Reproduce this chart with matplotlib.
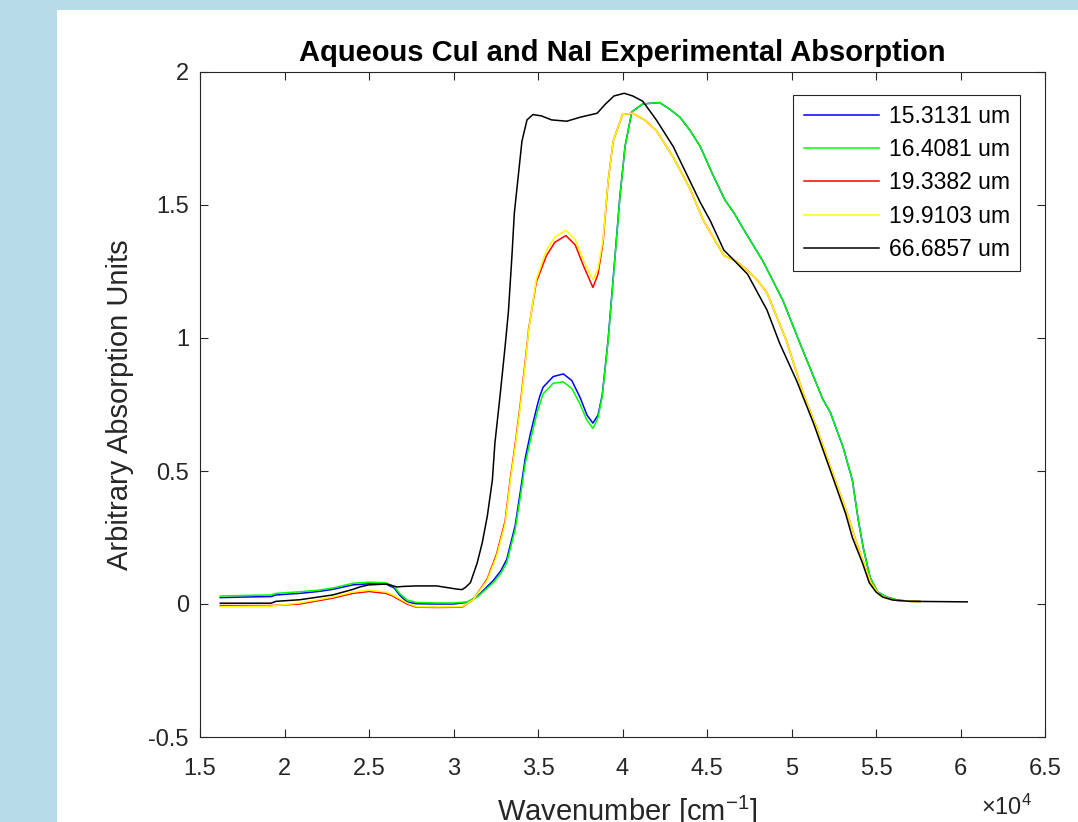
import matplotlib
matplotlib.use("Agg")
import matplotlib.pyplot as plt
from matplotlib.patches import Rectangle
from matplotlib.ticker import FuncFormatter

# wavenumber grids [cm^-1]
wn_green = [16200, 17500, 19200, 19500, 20900, 22000, 22850, 24050, 25000, 26000,
            26500, 26800, 27250, 27800, 29000, 30000, 30800, 31400, 32000, 32350,
            32800, 33150, 33650, 33950, 34250, 34550, 34950, 35100, 35300, 35900,
            36500, 37000, 37500, 37900, 38250, 38550, 38800, 39000, 39150, 39450,
            39850, 40150, 40550, 41200, 42200, 42800, 43400, 44000, 44600, 45300,
            46050, 46600, 47150, 48300, 49500, 50500, 51400, 51850, 52300, 53050,
            53600, 53950, 54250, 54650, 55100, 55650, 56300, 57000, 57600]

green = [0.030, 0.032, 0.034, 0.040, 0.046, 0.052, 0.060, 0.078, 0.082, 0.080,
         0.065, 0.040, 0.015, 0.006, 0.004, 0.004, 0.008, 0.026, 0.060, 0.080,
         0.115, 0.155, 0.280, 0.400, 0.530, 0.615, 0.720, 0.750, 0.790, 0.830,
         0.835, 0.810, 0.750, 0.690, 0.660, 0.700, 0.780, 0.900, 0.990, 1.220,
         1.530, 1.720, 1.850, 1.880, 1.885, 1.860, 1.830, 1.780, 1.720, 1.620,
         1.520, 1.470, 1.410, 1.290, 1.140, 0.980, 0.840, 0.770, 0.720, 0.590,
         0.466, 0.316, 0.210, 0.100, 0.045, 0.026, 0.014, 0.011, 0.010]

blue = [0.024, 0.026, 0.028, 0.034, 0.040, 0.047, 0.055, 0.072, 0.076, 0.075,
        0.060, 0.034, 0.008, 0.001, 0.000, 0.000, 0.006, 0.028, 0.066, 0.088,
        0.125, 0.168, 0.295, 0.420, 0.550, 0.640, 0.745, 0.780, 0.815, 0.855,
        0.865, 0.840, 0.775, 0.710, 0.680, 0.710, 0.785, 0.905, 0.995, 1.225,
        1.535, 1.720, 1.850, 1.880, 1.885, 1.860, 1.830, 1.780, 1.720, 1.620,
        1.520, 1.470, 1.410, 1.290, 1.140, 0.980, 0.840, 0.770, 0.720, 0.590,
        0.466, 0.316, 0.210, 0.100, 0.045, 0.026, 0.014, 0.011, 0.010]

wn_yellow = [16200, 19200, 20900, 22850, 24050, 25000, 26000, 26400, 27250, 27800,
             29000, 30500, 31150, 32000, 32550, 33050, 33350, 33650, 33950, 34250,
             34450, 34900, 35500, 36000, 36650, 37200, 37700, 38250, 38550, 38850,
             39150, 39450, 40000, 40600, 41300, 42000, 43000, 44000, 44800, 46000,
             46700, 47300, 47950, 48550, 49700, 50700, 51500, 52500, 53300, 53800,
             54300, 54700, 55200, 55800, 56500, 57600]

yellow = [-0.010, -0.008, 0.004, 0.026, 0.045, 0.052, 0.045, 0.034, 0.004, -0.010,
          -0.011, -0.010, 0.015, 0.090, 0.180, 0.300, 0.455, 0.590, 0.740, 0.905,
          1.030, 1.220, 1.330, 1.380, 1.405, 1.370, 1.290, 1.220, 1.260, 1.370,
          1.590, 1.740, 1.840, 1.845, 1.820, 1.780, 1.680, 1.560, 1.440, 1.310,
          1.290, 1.260, 1.220, 1.170, 0.990, 0.790, 0.660, 0.480, 0.340, 0.240,
          0.150, 0.080, 0.035, 0.018, 0.011, 0.009]

red = [-0.006, -0.006, 0.000, 0.022, 0.040, 0.047, 0.040, 0.030, 0.000, -0.012,
       -0.013, -0.012, 0.015, 0.095, 0.188, 0.310, 0.465, 0.600, 0.750, 0.915,
       1.035, 1.210, 1.310, 1.360, 1.385, 1.350, 1.270, 1.190, 1.240, 1.360,
       1.590, 1.740, 1.840, 1.845, 1.820, 1.780, 1.680, 1.560, 1.440, 1.310,
       1.290, 1.260, 1.220, 1.170, 0.990, 0.790, 0.660, 0.480, 0.340, 0.240,
       0.150, 0.080, 0.035, 0.018, 0.011, 0.009]

wn_black = [16200, 19200, 19500, 20900, 22850, 24050, 24500, 25000, 26050, 26650,
            27000, 27800, 29000, 30200, 30500, 30700, 31000, 31400, 31700, 32000,
            32300, 32450, 32750, 33050, 33250, 33450, 33600, 33800, 34050, 34350,
            34700, 35200, 35800, 36700, 37500, 38500, 39000, 39500, 40100, 40600,
            41200, 42000, 43000, 44600, 45200, 46000, 46400, 47400, 48550, 49300,
            50300, 51300, 52500, 53200, 53600, 54200, 54600, 55000, 55400, 56000,
            57000, 60400]

black = [0.003, 0.003, 0.010, 0.016, 0.034, 0.055, 0.065, 0.072, 0.075, 0.064,
         0.066, 0.068, 0.068, 0.056, 0.054, 0.062, 0.080, 0.154, 0.230, 0.330,
         0.466, 0.605, 0.780, 0.966, 1.100, 1.300, 1.470, 1.590, 1.740, 1.820,
         1.840, 1.835, 1.820, 1.815, 1.830, 1.845, 1.880, 1.910, 1.920, 1.910,
         1.890, 1.820, 1.720, 1.510, 1.440, 1.330, 1.305, 1.240, 1.105, 0.980,
         0.840, 0.680, 0.466, 0.340, 0.250, 0.154, 0.080, 0.045, 0.026, 0.015,
         0.010, 0.008]

labels = ["15.3131 um", "16.4081 um", "19.3382 um", "19.9103 um", "66.6857 um"]
x_ticks = [15000, 20000, 25000, 30000, 35000, 40000, 45000, 50000, 55000, 60000, 65000]
y_ticks = [-0.5, 0, 0.5, 1, 1.5, 2]

plt.rcParams["font.family"] = ["Liberation Sans", "DejaVu Sans"]
plt.rcParams["mathtext.fontset"] = "custom"
plt.rcParams["mathtext.rm"] = "Liberation Sans"
plt.rcParams["mathtext.it"] = "Liberation Sans:italic"

W, H = 1078, 822
fig = plt.figure(figsize=(W / 100, H / 100), dpi=100, facecolor="#b7dce7")
fig.add_artist(Rectangle((57 / W, 0), 1, (H - 10) / H, transform=fig.transFigure,
                         facecolor="white", edgecolor="none", zorder=0))

ax = fig.add_axes([200 / W, 1 - 737 / H, 845 / W, 665 / H])
ax.set_facecolor("white")

series = [(wn_green, blue, "#0000ff"), (wn_green, green, "#00ff00"),
          (wn_yellow, red, "#ff0000"), (wn_yellow, yellow, "#ffff00"),
          (wn_black, black, "#000000")]
for (xs, ys, c), lab in zip(series, labels):
    ax.plot(xs, ys, color=c, lw=1.1, label=lab)

ax.set_xlim(15000, 65000)
ax.set_ylim(-0.5, 2)
ax.set_xticks(x_ticks)
ax.set_yticks(y_ticks)
ax.xaxis.set_major_formatter(FuncFormatter(lambda v, _: f"{v / 1e4:g}"))
ax.yaxis.set_major_formatter(FuncFormatter(lambda v, _: f"{v:g}"))
ax.tick_params(direction="in", length=6, width=0.8, colors="#262626",
               labelsize=17, top=True, right=True, pad=8)
ax.tick_params(axis="x", pad=15)
for s in ax.spines.values():
    s.set_color("#262626")
    s.set_linewidth(0.8)

ax.set_title("Aqueous CuI and NaI Experimental Absorption", fontsize=21,
             fontweight="bold", pad=8, color="black")
ax.set_xlabel("Wavenumber [cm$^{-1}$]", fontsize=21, color="#262626")
ax.set_ylabel("Arbitrary Absorption Units", fontsize=21, color="#262626")
ax.xaxis.set_label_coords((627 - 200) / 845, (737 - 794) / 665)
ax.yaxis.set_label_coords((134 - 200) / 845, 0.5)
ax.text((1032 - 200) / 845, (737 - 815) / 665, r"$\times\mathregular{10^{4}}$",
        transform=ax.transAxes, ha="right", va="baseline", fontsize=17, color="#262626")

leg = ax.legend(loc="upper right", bbox_to_anchor=((1020 - 200) / 845, (737 - 95) / 665),
                borderaxespad=0, fontsize=16.5, handlelength=3.3, handletextpad=0.4,
                labelspacing=0.44, borderpad=0.45, fancybox=False, framealpha=1)
leg.get_frame().set_edgecolor("#262626")
leg.get_frame().set_linewidth(0.8)

fig.savefig("out.png", dpi=100, facecolor=fig.get_facecolor())
